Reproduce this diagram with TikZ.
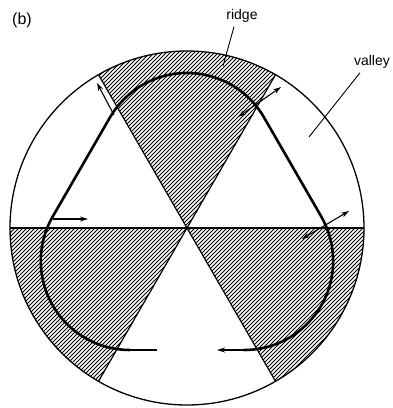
\documentclass[tikz,border=0pt]{standalone}
\usepackage{fontspec}
\setmainfont{Liberation Sans}
\usetikzlibrary{arrows.meta}
\begin{document}
\begin{tikzpicture}[x=1pt,y=1pt,
  hatch/.style={line width=1.0pt},
  rim/.style={line width=1.3pt},
  divider/.style={line width=1.2pt},
  orbit/.style={line width=2.6pt, line join=round},
  seg/.style={line width=1.8pt},
  flow/.style={line width=1.1pt, -{Stealth[length=8pt,width=5pt]}},
  flowtwo/.style={line width=1.1pt, {Stealth[length=8pt,width=5pt]}-{Stealth[length=8pt,width=5pt]}},
  lbl/.style={font=\fontsize{14}{16}\selectfont, inner sep=0pt},
  pointer/.style={line width=0.9pt}]
\useasboundingbox (0,0) rectangle (393,408);
\node[inner sep=0pt, font=\fontsize{16}{18}\selectfont] (blabel) at (22,388) {(b)};
\node[lbl] (ridge) at (242,392) {ridge};
\node[lbl] (valley) at (372,346) {valley};
\coordinate (ridgeend) at (223,342);
\coordinate (valleyend) at (309,271);
\draw[pointer] (ridge.south) ++(-8,-4) -- (ridgeend);
\draw[pointer] (valley.south) ++(-12,-4) -- (valleyend);
\begin{scope}[shift={(187,180)}]
 \def\R{177}
 \begin{scope}
  \clip (0,0) -- (60:\R) arc[start angle=60,end angle=120,radius=\R] -- cycle
        (0,0) -- (180:\R) arc[start angle=180,end angle=240,radius=\R] -- cycle
        (0,0) -- (300:\R) arc[start angle=300,end angle=360,radius=\R] -- cycle;
  \foreach \i in {-260,-256,...,260} \draw[hatch] ({\i-200},-200) -- ({\i+200},200);
 \end{scope}
 \draw[divider] (180:\R) -- (0:\R);
 \draw[divider] (120:\R) -- (300:\R);
 \draw[divider] (60:\R) -- (240:\R);
 \draw[rim] (0,0) circle[radius=\R];
 % orbit (rounded triangle)
 \draw[orbit] (57.16,-122) arc[start angle=-90,end angle=30,radius=89]
   -- (77.08,110.5) arc[start angle=30,end angle=150,radius=89]
   -- (-134.24,11.5) arc[start angle=150,end angle=270,radius=89];
 \coordinate (bl) at (-57.16,-122);
 \coordinate (blend) at (-30,-122);
 \coordinate (br) at (57.16,-122);
 \coordinate (brend) at (30,-122);
 \draw[seg] (bl) -- (blend);
 \draw[flow, line width=1.6pt] (br) -- (brend);
 % flow arrows
 \coordinate (a1s) at (-73,113); \coordinate (a1e) at (-90,145);
 \coordinate (a2s) at (-134,9); \coordinate (a2e) at (-99,9);
 \coordinate (a3s) at (115,-11); \coordinate (a3e) at (162,17);
 \coordinate (a4s) at (51,111); \coordinate (a4e) at (94,141);
 \draw[flow] (a1s) -- (a1e);
 \draw[flow] (a2s) -- (a2e);
 \draw[flowtwo] (a3s) -- (a3e);
 \draw[flowtwo] (a4s) -- (a4e);
\end{scope}
\end{tikzpicture}
\end{document}
